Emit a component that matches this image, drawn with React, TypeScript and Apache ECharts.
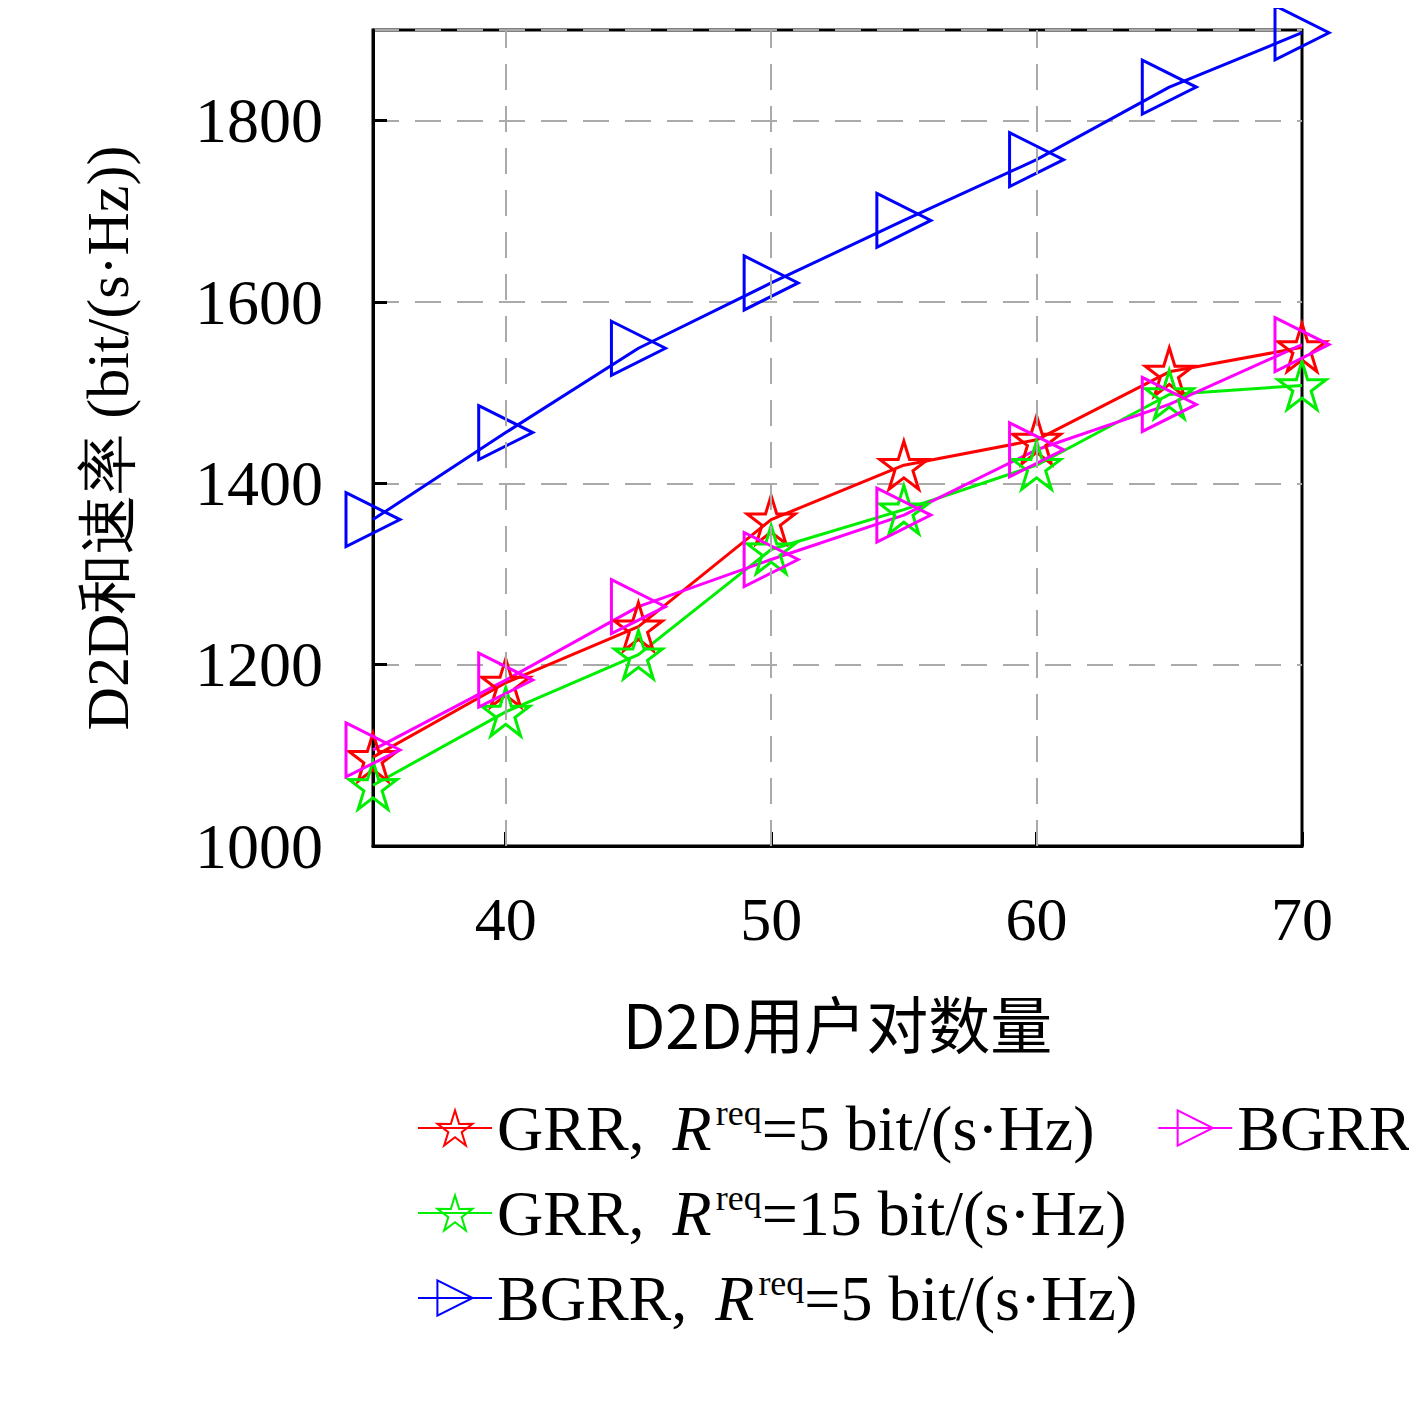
import React, { useEffect, useRef } from "react";
import * as echarts from "echarts";

const xValues = [35, 40, 45, 50, 55, 60, 65, 70];
const grr5 = [1098, 1180, 1242, 1360, 1420, 1448, 1523, 1550];
const grr15 = [1067, 1148, 1211, 1327, 1371, 1420, 1498, 1508];
const bgrr5 = [1360, 1456, 1549, 1621, 1690, 1757, 1837, 1897];
const bgrr15 = [1106, 1183, 1264, 1316, 1365, 1437, 1487, 1553];
const xTicks = [40, 50, 60, 70];
const seriesNames = ["GRR5", "GRR15", "BGRR5", "BGRR15"];
const legendText: Record<string, string> = {
  GRR5: "{a|GRR, }{i|R}{s|req}{a|=5 bit/(s·Hz)}",
  GRR15: "{a|GRR, }{i|R}{s|req}{a|=15 bit/(s·Hz)}",
  BGRR5: "{a|BGRR, }{i|R}{s|req}{a|=5 bit/(s·Hz)}",
  BGRR15: "{a|BGRR, }{i|R}{s|req}{a|=15 bit/(s·Hz)}",
};

const STAR = "path://M50,0 L61.17,34.63 L97.55,34.55 L68.07,55.87 L79.39,90.45 L50,69 L20.61,90.45 L31.93,55.87 L2.45,34.55 L38.83,34.63 Z";
const TRI = "path://M0,0 L100,50 L0,100 Z";
const SERIF = "'Liberation Serif', 'DejaVu Serif', serif";
const CJK = "'Noto Sans CJK SC', sans-serif";

function mk(name: string, vals: number[], color: string, symbol: string, size: number, extra: any = {}) {
  return {
    name,
    type: "line",
    data: xValues.map((x, i) => [x, vals[i]]),
    symbol,
    symbolSize: size,
    lineStyle: { color, width: 3 },
    itemStyle: { color: "rgba(255,255,255,0)", borderColor: color, borderWidth: 3 },
    ...extra,
  };
}

export default function App() {
  const ref = useRef<HTMLDivElement>(null);
  useEffect(() => {
    const chart = echarts.init(ref.current!, undefined, { renderer: "svg" });
    const grid = { color: "#aaa", width: 2, type: [26, 16] };
    chart.setOption({
      animation: false,
      backgroundColor: "#fff",
      grid: { left: 373, right: 115, top: 30, bottom: 571, show: true, borderColor: "#000", borderWidth: 3, backgroundColor: "transparent" },
      xAxis: {
        type: "value", min: 35, max: 70,
        name: "D2D用户对数量", nameLocation: "middle", nameGap: 145,
        nameTextStyle: { fontFamily: CJK, fontSize: 62, color: "#000" },
        axisLine: { lineStyle: { color: "#000", width: 3 } },
        axisTick: { inside: true, length: 14, customValues: xTicks, lineStyle: { color: "#000", width: 3 } },
        axisLabel: { customValues: xTicks, margin: 42, fontFamily: SERIF, fontSize: 62, color: "#000" },
        splitLine: { show: false },
      },
      yAxis: {
        type: "value", min: 1000, max: 1900, interval: 200,
        name: "D2D和速率 (bit/(s·Hz))", nameLocation: "middle", nameGap: 235, nameRotate: 90,
        nameTextStyle: { fontFamily: SERIF, fontSize: 60, color: "#000" },
        axisLine: { lineStyle: { color: "#000", width: 3 } },
        axisTick: { inside: true, length: 14, lineStyle: { color: "#000", width: 3 } },
        axisLabel: { margin: 50, fontFamily: SERIF, fontSize: 64, color: "#000", showMaxLabel: false, formatter: (v: number) => String(v) },
        splitLine: { show: true, lineStyle: grid },
      },
      legend: {
        orient: "vertical", left: 412, top: 1090, itemGap: 20, itemWidth: 74, itemHeight: 44,
        data: seriesNames,
        formatter: (n: string) => legendText[n],
        textStyle: {
          color: "#000",
          rich: {
            a: { fontFamily: SERIF, fontSize: 64, color: "#000" },
            i: { fontFamily: SERIF, fontSize: 64, fontStyle: "italic", color: "#000", padding: [0, 4, 0, 12] },
            s: { fontFamily: SERIF, fontSize: 36, color: "#000", padding: [0, 0, 30, 0] },
          },
        },
      },
      series: [
        mk("GRR5", grr5, "#ff0000", STAR, 48, {
          markLine: {
            silent: true, symbol: "none", label: { show: false },
            lineStyle: grid,
            data: [{ xAxis: 40 }, { xAxis: 50 }, { xAxis: 60 }],
          },
        }),
        mk("GRR15", grr15, "#00ee00", STAR, 48),
        mk("BGRR5", bgrr5, "#0000ff", TRI, 54),
        mk("BGRR15", bgrr15, "#ff00ff", TRI, 54),
      ],
    });
    return () => chart.dispose();
  }, []);
  return <div ref={ref} style={{ width: 1417, height: 1417, margin: -8 }} />;
}
